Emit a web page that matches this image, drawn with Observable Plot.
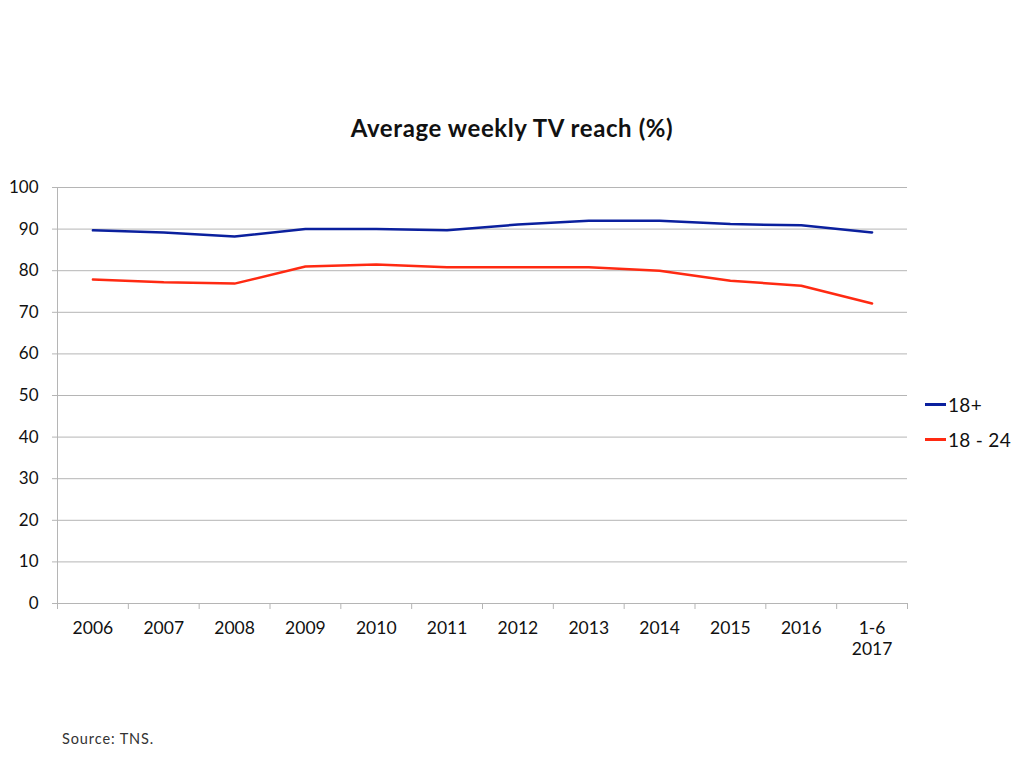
<!DOCTYPE html>
<html>
<head>
<meta charset="utf-8">
<script src="https://cdn.jsdelivr.net/npm/d3@7"></script>
<script src="https://cdn.jsdelivr.net/npm/@observablehq/plot@0.6"></script>
<style>
  html, body { margin: 0; padding: 0; background: #fff; }
  #wrap { position: relative; width: 1024px; height: 768px; font-family: Lato, "Open Sans", sans-serif; color: #111; }
  #title { position: absolute; left: 0; width: 1024px; top: 113px; text-align: center; font-size: 24px; font-weight: bold; letter-spacing: 0.6px; }
  #legend { position: absolute; left: 925px; top: 387px; font-size: 19px; letter-spacing: 0.3px; }
  .item { display: flex; align-items: center; height: 35px; }
  .sw { width: 21px; height: 2.5px; margin-right: 2px; }
  #source { position: absolute; left: 62px; top: 730px; font-size: 14.5px; letter-spacing: 0.9px; color: #333; }
  svg { display: block; }
</style>
</head>
<body>
<div id="wrap">
  <div id="chart"></div>
  <div id="title">Average weekly TV reach (%)</div>
  <div id="legend"></div>
  <div id="source">Source: TNS.</div>
</div>
<script>
const categories = ["2006","2007","2008","2009","2010","2011","2012","2013","2014","2015","2016","1-6\n2017"];
const adults18plus = [89.7, 89.2, 88.2, 90.0, 90.0, 89.7, 91.1, 92.0, 92.0, 91.2, 90.9, 89.2];
const young18to24 = [77.9, 77.2, 76.9, 81.0, 81.5, 80.8, 80.8, 80.8, 80.0, 77.6, 76.4, 72.1];
const yTicks = [0, 10, 20, 30, 40, 50, 60, 70, 80, 90, 100];
const seriesNames = ["18+", "18 - 24"];
const seriesColors = ["#0b209e", "#ff2a12"];

const rows = [];
categories.forEach((c, i) => {
  rows.push({cat: c, i, series: seriesNames[0], value: adults18plus[i]});
  rows.push({cat: c, i, series: seriesNames[1], value: young18to24[i]});
});
const boundaries = d3.range(categories.length + 1);

const chart = Plot.plot({
  width: 1024,
  height: 768,
  marginLeft: 57,
  marginRight: 117,
  marginTop: 187,
  marginBottom: 165,
  style: {fontFamily: "Lato, 'Open Sans', sans-serif", fontSize: "17px", color: "#111"},
  x: {type: "linear", domain: [0, categories.length]},
  y: {domain: [0, 100]},
  color: {domain: seriesNames, range: seriesColors},
  marks: [
    Plot.gridY(yTicks, {stroke: "#b5b5b5", strokeOpacity: 1, strokeWidth: 1}),
    Plot.axisY({ticks: yTicks, tickSize: 5, tickPadding: 14, stroke: "#b5b5b5", fill: "#111", fontSize: 17, label: null}),
    Plot.axisX({ticks: boundaries, tickFormat: () => "", tickSize: 6, stroke: "#b5b5b5", label: null}),
    Plot.ruleX([0], {stroke: "#b5b5b5"}),
    Plot.ruleY([0], {stroke: "#b5b5b5"}),
    Plot.text(categories, {x: (d, i) => i + 0.5, y: 0, text: d => d, dy: 16, lineAnchor: "top", fontSize: 17.5, fill: "#111", lineHeight: 1.2}),
    Plot.line(rows, {x: d => d.i + 0.5, y: "value", z: "series", stroke: "series", strokeWidth: 2.5})
  ]
});
document.getElementById("chart").appendChild(chart);

const legend = document.getElementById("legend");
seriesNames.forEach((n, k) => {
  const it = document.createElement("div");
  it.className = "item";
  it.innerHTML = `<span class="sw" style="background:${seriesColors[k]}"></span><span>${n}</span>`;
  legend.appendChild(it);
});
</script>
</body>
</html>
